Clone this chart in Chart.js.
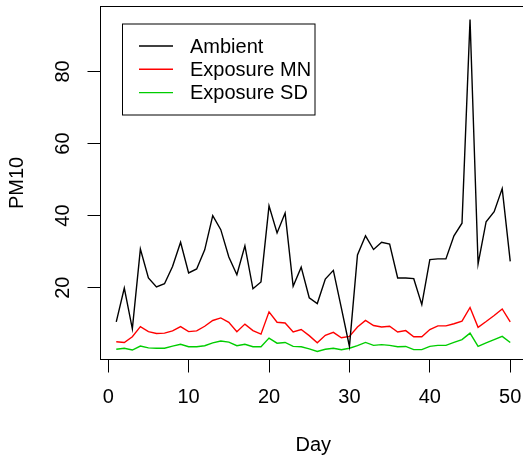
<!DOCTYPE html>
<html>
<head>
<meta charset="utf-8">
<script src="https://cdn.jsdelivr.net/npm/chart.js@4.4.0/dist/chart.umd.min.js"></script>
<style>
  html, body { margin: 0; padding: 0; background: #fff; overflow: hidden; }
  #wrap { width: 530px; height: 457px; }
</style>
</head>
<body>
<div id="wrap"><canvas id="chart" width="530" height="457"></canvas></div>
<script>
const days = [1, 2, 3, 4, 5, 6, 7, 8, 9, 10, 11, 12, 13, 14, 15, 16, 17, 18, 19, 20,
  21, 22, 23, 24, 25, 26, 27, 28, 29, 30, 31, 32, 33, 34, 35, 36, 37, 38, 39, 40,
  41, 42, 43, 44, 45, 46, 47, 48, 49, 50];
const ambient = [10.5, 19.9, 8.6, 30.7, 22.7, 20.2, 21.1, 25.9, 32.6, 24.1,
  25.2, 30.5, 40.0, 36.1, 28.5, 23.6, 31.6, 19.7, 21.6, 42.7,
  35.2, 40.7, 20.4, 25.7, 17.2, 15.6, 22.4, 24.8, 14.3, 3.7,
  29.1, 34.4, 30.6, 32.6, 32.1, 22.7, 22.7, 22.5, 15.3, 27.8,
  28.0, 28.0, 34.4, 37.9, 94.4, 26.6, 38.3, 41.1, 47.5, 27.3];
const exposureMN = [5.0, 4.8, 6.4, 9.2, 7.8, 7.3, 7.4, 8.0, 9.2, 7.8,
  8.0, 9.3, 10.9, 11.6, 10.4, 7.8, 9.9, 8.1, 7.1, 13.3,
  10.4, 10.2, 7.7, 8.4, 6.7, 4.7, 6.8, 7.6, 6.1, 6.5,
  9.1, 10.9, 9.5, 9.1, 9.3, 7.7, 8.1, 6.4, 6.4, 8.4,
  9.4, 9.4, 10.0, 10.7, 14.5, 9.0, 10.6, 12.3, 14.1, 10.5];
const exposureSD = [2.9, 3.2, 2.7, 3.8, 3.3, 3.2, 3.2, 3.8, 4.3, 3.6,
  3.6, 3.9, 4.7, 5.2, 4.9, 3.9, 4.3, 3.6, 3.6, 6.0,
  4.6, 4.8, 3.7, 3.6, 3.0, 2.3, 2.9, 3.2, 2.8, 3.2,
  3.9, 4.8, 4.0, 4.2, 4.0, 3.6, 3.7, 2.8, 2.8, 3.7,
  4.0, 4.0, 4.8, 5.6, 7.4, 3.7, 4.7, 5.6, 6.5, 4.8];
const seriesNames = ["Ambient", "Exposure MN", "Exposure SD"];
const xTicks = [0, 10, 20, 30, 40, 50];
const yTicks = [20, 40, 60, 80];

const FONT = "'Liberation Sans', Arial, sans-serif";
Chart.defaults.font.family = FONT;
Chart.defaults.color = "#000";

// R style range: data range of the first series plus 4% on each side
function pad(lo, hi) {
  const d = (hi - lo) * 0.04;
  return [lo - d, hi + d];
}
const xr = pad(Math.min(...days), Math.max(...days));
const yr = pad(Math.min(...ambient), Math.max(...ambient));

function pts(vals) {
  return days.map(function (d, i) { return { x: d, y: vals[i] }; });
}

const colors = ["#000000", "#FF0000", "#00CD00"];

// box, rotated y labels and the legend, drawn like base R graphics
const rStyle = {
  id: "rStyle",
  afterDraw(chart) {
    const ctx = chart.ctx;
    const a = chart.chartArea;
    const ys = chart.scales.y;
    ctx.save();
    ctx.strokeStyle = "#000";
    ctx.lineWidth = 1;
    ctx.strokeRect(a.left, a.top, a.right - a.left, a.bottom - a.top);

    ctx.fillStyle = "#000";
    ctx.font = "20px " + FONT;
    ctx.textAlign = "center";
    ctx.textBaseline = "middle";
    yTicks.forEach(function (v) {
      ctx.save();
      ctx.translate(63.5, ys.getPixelForValue(v));
      ctx.rotate(-Math.PI / 2);
      ctx.fillText(String(v), 0, 0);
      ctx.restore();
    });

    // legend
    const lx = a.left + 22, ly = a.top + 17.5;
    ctx.strokeRect(lx, ly, 192.5, 91);
    ctx.textAlign = "left";
    chart.data.datasets.forEach(function (ds, i) {
      const ry = ly + 22 + i * 23.3;
      ctx.strokeStyle = ds.borderColor;
      ctx.lineWidth = 1.4;
      ctx.beginPath();
      ctx.moveTo(lx + 16.5, ry);
      ctx.lineTo(lx + 50.5, ry);
      ctx.stroke();
      ctx.fillText(ds.label, lx + 67.5, ry + 1);
    });
    ctx.restore();
  }
};

const ctx = document.getElementById("chart").getContext("2d");
const myChart = new Chart(ctx, {
  type: "line",
  data: {
    datasets: [ambient, exposureMN, exposureSD].map(function (vals, i) {
      return {
        label: seriesNames[i],
        data: pts(vals),
        borderColor: colors[i],
        borderWidth: 1.4,
        pointRadius: 0,
        tension: 0,
        fill: false,
      };
    }),
  },
  options: {
    responsive: false,
    animation: false,
    devicePixelRatio: 1,
    layout: { padding: { left: 0, top: 6.5, right: 4, bottom: 0 } },
    plugins: {
      legend: { display: false },
      tooltip: { enabled: false },
    },
    scales: {
      x: {
        type: "linear",
        min: xr[0],
        max: xr[1],
        afterBuildTicks: function (scale) {
          scale.ticks = xTicks.map(function (v) { return { value: v }; });
        },
        afterFit: function (scale) {
          scale.height = 97.5;
          scale.paddingLeft = 0;
          scale.paddingRight = 0;
        },
        grid: {
          drawOnChartArea: false,
          drawTicks: true,
          tickLength: 13,
          color: "#000",
          lineWidth: 1,
        },
        border: { display: false },
        ticks: {
          autoSkip: false,
          maxRotation: 0,
          padding: 13,
          font: { size: 20, lineHeight: 1.2 },
          callback: function (v) { return String(v); },
        },
        title: {
          display: true,
          text: "Day",
          font: { size: 20, lineHeight: 1.2 },
          padding: { top: 0, bottom: 0 },
        },
      },
      y: {
        type: "linear",
        min: yr[0],
        max: yr[1],
        afterBuildTicks: function (scale) {
          scale.ticks = yTicks.map(function (v) { return { value: v }; });
        },
        afterFit: function (scale) {
          scale.width = 100.5;
          scale.paddingTop = 0;
          scale.paddingBottom = 0;
        },
        grid: {
          drawOnChartArea: false,
          drawTicks: true,
          tickLength: 13,
          color: "#000",
          lineWidth: 1,
        },
        border: { display: false },
        ticks: { display: false },
        title: {
          display: true,
          text: "PM10",
          font: { size: 20, lineHeight: 1.2 },
          padding: { top: 5, bottom: 0 },
        },
      },
    },
  },
  plugins: [rStyle],
});
</script>
</body>
</html>
